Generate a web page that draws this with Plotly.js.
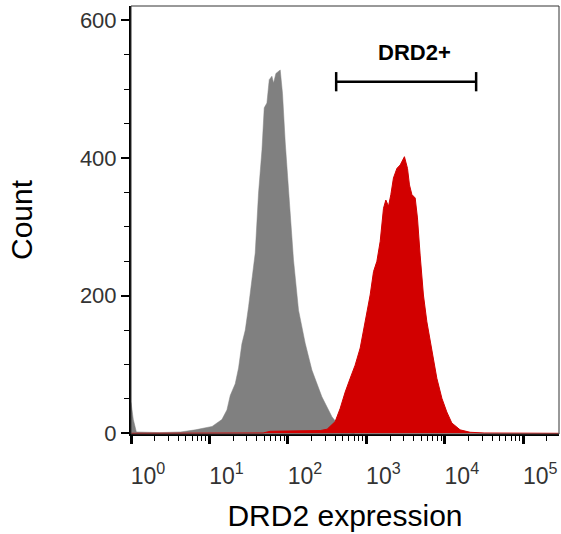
<!DOCTYPE html>
<html>
<head>
<meta charset="utf-8">
<script src="https://cdn.plot.ly/plotly-3.0.1.min.js"></script>
<style>html,body{margin:0;padding:0;background:#fff;}#chart{width:561px;height:534px;}</style>
</head>
<body>
<div id="chart"></div>
<script>
// Control (isotype) histogram: DRD2 expression vs count
const controlX = [1, 1.07, 1.17, 2.3, 4.3, 6.6, 10.8, 14.4, 16.7, 18.4, 21.3, 23.5, 25.9, 28.6, 31.5, 34.8, 38.3, 42.2, 46.7, 49.9, 54.0, 57.8, 62.5, 65.6, 70.3, 79.8, 85.3, 92.5, 101.9, 117.8, 136.5, 166, 202, 271, 364, 421, 537, 708];
const controlY = [45, 20, 2, 1, 2, 5, 10, 20, 34, 55, 72, 95, 130, 150, 184, 228, 262, 349, 412, 473, 480, 514, 519, 509, 523, 528, 494, 422, 349, 252, 179, 131, 92, 53, 24, 15, 3, 0];

// DRD2-stained histogram
const drd2X = [1, 48.4, 59.6, 107, 158, 191, 258, 316, 346, 400, 463, 537, 622, 719, 834, 918, 1014, 1117, 1233, 1361, 1500, 1652, 1770, 1914, 2051, 2213, 2449, 2698, 3055, 3342, 3540, 3802, 4188, 4477, 4842, 5333, 5902, 6823, 7907, 9162, 10593, 12274, 15668, 20989, 31623, 281838];
const drd2Y = [0, 0.5, 3, 3, 3, 4, 4, 6, 10, 17, 36, 60, 80, 99, 124, 148, 172, 201, 235, 250, 279, 327, 339, 330, 347, 371, 385, 390, 402, 385, 361, 347, 342, 313, 259, 201, 162, 119, 80, 51, 31, 15, 5, 1.5, 0.5, 0];

// Gate "DRD2+"
const gateLabel = "DRD2+";
const gateRange = [412, 25060];
const gateLevel = 511;
const gateCap = [497, 525];

// Axis ticks
const xTickVals = [1, 10, 100, 1000, 10000, 100000];
const xTickText = ["10<sup>0</sup>", "10<sup>1</sup>", "10<sup>2</sup>", "10<sup>3</sup>", "10<sup>4</sup>", "10<sup>5</sup>"];
const xMinorVals = [];
for (const d of [1, 10, 100, 1000, 10000, 100000]) for (let m = 2; m <= 9; m++) xMinorVals.push(d * m);
const yTickVals = [0, 200, 400, 600];

const xTitle = "DRD2 expression";
const yTitle = "Count";

const FONT = "Liberation Sans, Arial, Helvetica, sans-serif";

const traces = [
  {
    x: controlX, y: controlY, type: "scatter", mode: "lines",
    fill: "tozeroy", fillcolor: "#808080",
    line: {color: "#808080", width: 0.5}, hoverinfo: "skip"
  },
  {
    x: drd2X, y: drd2Y, type: "scatter", mode: "lines",
    fill: "tozeroy", fillcolor: "#d20000",
    line: {color: "#d20000", width: 1}, hoverinfo: "skip"
  },
  {
    x: [gateRange[0], gateRange[0], null, gateRange[0], gateRange[1], null, gateRange[1], gateRange[1]],
    y: [gateCap[0], gateCap[1], null, gateLevel, gateLevel, null, gateCap[0], gateCap[1]],
    type: "scatter", mode: "lines", line: {color: "#000", width: 2.5},
    hoverinfo: "skip", connectgaps: false
  }
];

const layout = {
  width: 561, height: 534,
  margin: {l: 131, r: 2, t: 6, b: 100},
  paper_bgcolor: "#fff", plot_bgcolor: "#fff",
  showlegend: false,
  font: {family: FONT, color: "#000"},
  xaxis: {
    type: "log", range: [0, 5.455],
    showgrid: false, zeroline: false,
    showline: true, linecolor: "#000", linewidth: 2,
    ticks: "outside", ticklen: 8, tickwidth: 3, tickcolor: "#000",
    tickmode: "array", tickvals: xTickVals, ticktext: xTickText,
    ticklabelshift: 17, ticklabelstandoff: 12,
    tickfont: {family: FONT, size: 23, color: "#333"},
    minor: {ticks: "outside", ticklen: 5, tickwidth: 1, tickcolor: "#000", tickmode: "array", tickvals: xMinorVals},
    title: {text: xTitle, font: {family: FONT, size: 30, color: "#000"}, standoff: 17},
    fixedrange: true
  },
  yaxis: {
    range: [-1, 621],
    showgrid: false, zeroline: false,
    showline: true, linecolor: "#000", linewidth: 2,
    ticks: "outside", ticklen: 8, tickwidth: 2, tickcolor: "#000",
    tickmode: "array", tickvals: yTickVals,
    tickfont: {family: FONT, size: 22, color: "#333"},
    minor: {ticks: "outside", ticklen: 5, tickwidth: 1, tickcolor: "#000", dtick: 50},
    title: {text: yTitle, font: {family: FONT, size: 30, color: "#000"}, standoff: 38},
    fixedrange: true
  },
  shapes: [
    {type: "rect", xref: "paper", yref: "paper", x0: 0, x1: 1, y0: 0, y1: 1,
     line: {color: "#333", width: 1}, fillcolor: "rgba(0,0,0,0)", layer: "above"}
  ],
  annotations: [
    {text: "<b>" + gateLabel + "</b>", xref: "paper", yref: "y", x: 0.6626, y: 554,
     showarrow: false, font: {family: FONT, size: 22, color: "#000"}, xanchor: "center", yanchor: "middle"}
  ]
};

Plotly.newPlot("chart", traces, layout, {displayModeBar: false, staticPlot: true});
</script>
</body>
</html>
